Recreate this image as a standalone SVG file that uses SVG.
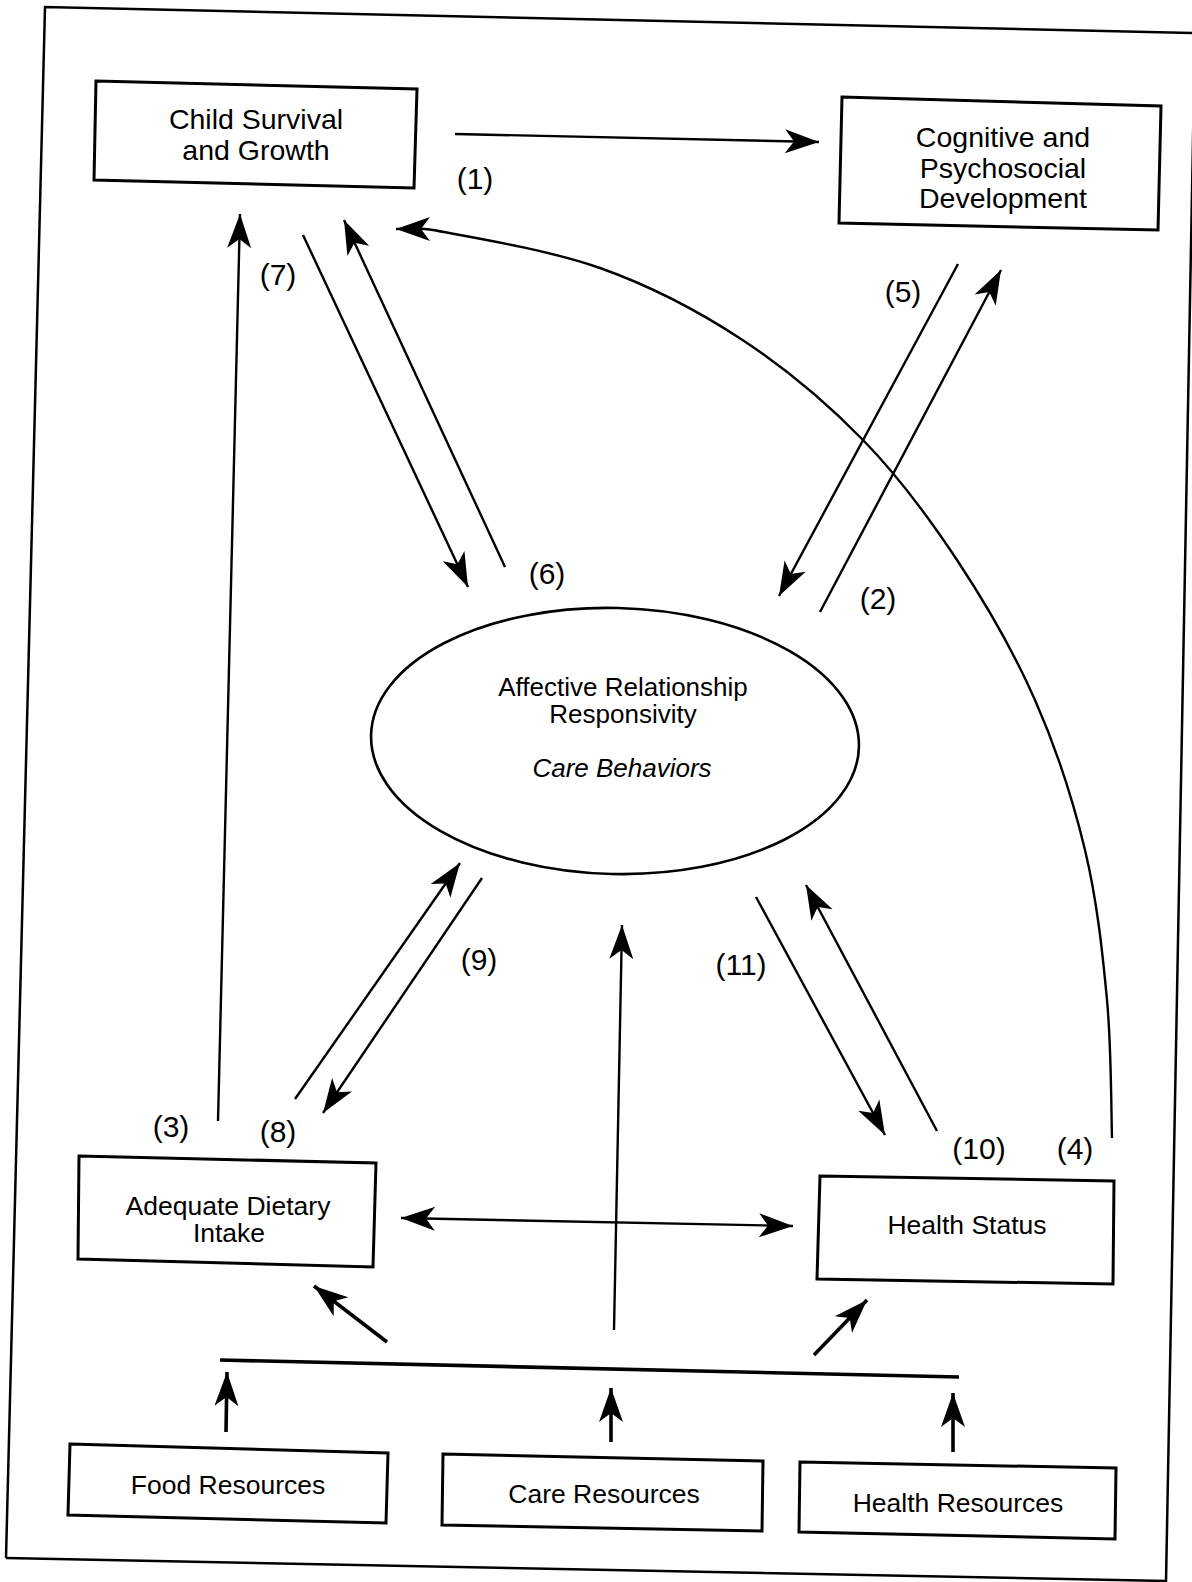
<svg xmlns="http://www.w3.org/2000/svg" width="1192" height="1582" viewBox="0 0 1192 1582">
<style>
  .box { fill: #fff; stroke: #000; stroke-width: 3; stroke-linejoin: miter; }
  .frame { fill: none; stroke: #000; stroke-width: 2.5; }
  .t { font-family: "Liberation Sans", Arial, sans-serif; font-size: 26.5px; fill: #000; text-anchor: middle; }
  .te { font-family: "Liberation Sans", Arial, sans-serif; font-size: 26px; fill: #000; text-anchor: middle; }
  .tl { font-family: "Liberation Sans", Arial, sans-serif; font-size: 28.5px; fill: #000; text-anchor: middle; }
  .num { font-family: "Liberation Sans", Arial, sans-serif; font-size: 30px; fill: #000; text-anchor: middle; }
  .c { fill: none; stroke: #000; stroke-width: 2.4; }
  .ck { fill: none; stroke: #000; stroke-width: 3.6; }
  .a { marker-end: url(#ah); }
</style>
<defs>
  <marker id="ah" viewBox="-36 -14 38 28" refX="0" refY="0" markerWidth="38" markerHeight="28" markerUnits="userSpaceOnUse" orient="auto-start-reverse">
    <path d="M0,0 L-34,-12 L-25,0 L-34,12 Z" fill="#000"/>
  </marker>
</defs>
<rect x="0" y="0" width="1192" height="1582" fill="#fff"/>

<g id="frame">
  <polyline class="frame" points="6,1558 45,7 1196,33"/>
  <line class="frame" x1="1195" y1="33" x2="1166" y2="1582"/>
  <line class="frame" x1="6" y1="1558" x2="1166" y2="1581"/>
</g>

<g id="connectors">
  <line class="c a" x1="455" y1="134" x2="819" y2="142"/>
  <line class="c a" x1="218" y1="1121" x2="240" y2="214"/>
  <line class="c a" x1="303" y1="235" x2="468" y2="587"/>
  <line class="c a" x1="505" y1="567" x2="344" y2="220"/>
  <line class="c a" x1="958" y1="264" x2="779" y2="596"/>
  <line class="c a" x1="820" y1="612" x2="1001" y2="270"/>
  <path class="c a" d="M1112,1138 C1111.2,1115 1111.5,1048 1107,1000 C1102.5,952 1097,900 1085,850 C1073,800 1056.3,748.3 1035,700 C1013.7,651.7 985.7,603.3 957,560 C928.3,516.7 899,476.8 863,440 C827,403.2 784.8,367.7 741,339 C697.2,310.3 651.3,286.2 600,268 C548.7,249.8 467,236.5 433,230 C422.8,228 405,229 396,229"/>
  <line class="c a" x1="295" y1="1099" x2="460" y2="863"/>
  <line class="c a" x1="482" y1="878" x2="323" y2="1113"/>
  <line class="c a" x1="756" y1="897" x2="885" y2="1135"/>
  <line class="c a" x1="937" y1="1131" x2="806" y2="885"/>
  <line class="c a" x1="614" y1="1330" x2="622" y2="925"/>
  <line class="c a" x1="401" y1="1218" x2="793" y2="1226" marker-start="url(#ah)"/>
  <line class="ck a" x1="387" y1="1342" x2="314" y2="1286"/>
  <line class="ck a" x1="814" y1="1355" x2="867" y2="1300"/>
  <line class="ck" x1="220" y1="1360" x2="959" y2="1377"/>
  <line class="ck a" x1="226" y1="1432" x2="227" y2="1372"/>
  <line class="ck a" x1="611" y1="1442" x2="611" y2="1388"/>
  <line class="ck a" x1="953" y1="1452" x2="953" y2="1393"/>
</g>

<g id="labels">
  <text class="num" x="475" y="189">(1)</text>
  <text class="num" x="278" y="285">(7)</text>
  <text class="num" x="547" y="584">(6)</text>
  <text class="num" x="903" y="302">(5)</text>
  <text class="num" x="878" y="609">(2)</text>
  <text class="num" x="479" y="970">(9)</text>
  <text class="num" x="741" y="975">(11)</text>
  <text class="num" x="171" y="1137">(3)</text>
  <text class="num" x="278" y="1142">(8)</text>
  <text class="num" x="979" y="1159">(10)</text>
  <text class="num" x="1075" y="1159">(4)</text>
</g>

<g id="child-survival">
  <polygon class="box" points="96,81 417,89 414,188 94,180"/>
  <text class="tl" x="256" y="129">Child Survival</text>
  <text class="tl" x="256" y="160">and Growth</text>
</g>

<g id="cognitive">
  <polygon class="box" points="842,97 1161,106 1158,230 839,223"/>
  <text class="tl" x="1003" y="147">Cognitive and</text>
  <text class="tl" x="1003" y="177.5">Psychosocial</text>
  <text class="tl" x="1003" y="208">Development</text>
</g>

<g id="care-behaviors">
  <ellipse cx="615" cy="741" rx="244" ry="133" transform="rotate(1.4 615 741)" fill="#fff" stroke="#000" stroke-width="2.6"/>
  <text class="te" x="623" y="696">Affective Relationship</text>
  <text class="te" x="623" y="723">Responsivity</text>
  <text class="te" x="622" y="777" font-style="italic">Care Behaviors</text>
</g>

<g id="dietary-intake">
  <polygon class="box" points="79,1156 376,1163 373,1267 78,1259"/>
  <text class="t" x="228" y="1215">Adequate Dietary</text>
  <text class="t" x="229" y="1242">Intake</text>
</g>

<g id="health-status">
  <polygon class="box" points="820,1176 1114,1181 1113,1284 817,1279"/>
  <text class="t" x="967" y="1234">Health Status</text>
</g>

<g id="food-resources">
  <polygon class="box" points="70,1444 388,1453 386,1523 68,1515"/>
  <text class="t" x="228" y="1494">Food Resources</text>
</g>

<g id="care-resources">
  <polygon class="box" points="443,1454 763,1461 762,1531 442,1525"/>
  <text class="t" x="604" y="1503">Care Resources</text>
</g>

<g id="health-resources">
  <polygon class="box" points="800,1462 1116,1468 1115,1539 799,1532"/>
  <text class="t" x="958" y="1512">Health Resources</text>
</g>
</svg>
